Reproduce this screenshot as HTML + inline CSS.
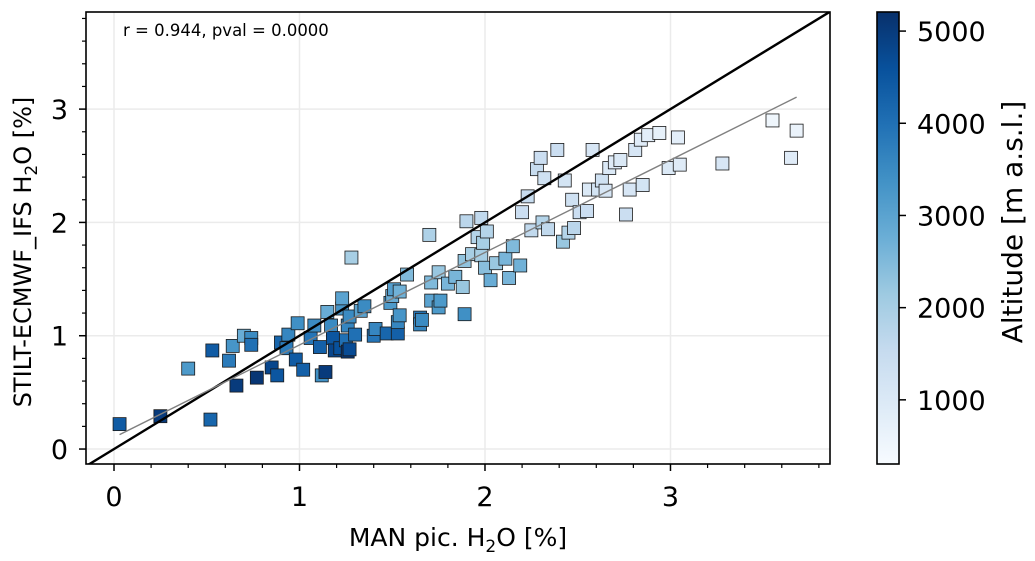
<!DOCTYPE html>
<html><head><meta charset="utf-8"><style>
html,body{margin:0;padding:0;background:#fff;width:1035px;height:561px;overflow:hidden}
svg{display:block;font-family:"DejaVu Sans","Liberation Sans",sans-serif}
</style></head><body>
<svg id="chart" width="1035" height="561" viewBox="0 0 1035 561" xmlns="http://www.w3.org/2000/svg">
<defs>
<linearGradient id="blues" x1="0" y1="1" x2="0" y2="0">
<stop offset="0" stop-color="#f7fbff"/><stop offset="0.125" stop-color="#deebf7"/><stop offset="0.25" stop-color="#c6dbef"/><stop offset="0.375" stop-color="#9ecae1"/><stop offset="0.5" stop-color="#6baed6"/><stop offset="0.625" stop-color="#4292c6"/><stop offset="0.75" stop-color="#2171b5"/><stop offset="0.875" stop-color="#08519c"/><stop offset="1" stop-color="#08306b"/>
</linearGradient>
<clipPath id="plotclip"><rect x="86" y="12" width="744" height="452"/></clipPath>
</defs>
<g id="grid"></g>
<g id="marks" clip-path="url(#plotclip)"></g>
<rect x="86" y="12" width="744" height="452" fill="none" stroke="#000" stroke-width="1.6"/>
<g id="axes"></g>
<text x="123" y="36" font-size="16.5" fill="#000">r = 0.944, pval = 0.0000</text>
<text x="458" y="546" font-size="25" text-anchor="middle">MAN pic. H<tspan font-size="17" dy="6">2</tspan><tspan dy="-6">O [%]</tspan></text>
<text transform="translate(31,252) rotate(-90)" font-size="24" text-anchor="middle">STILT-ECMWF_IFS H<tspan font-size="17" dy="6">2</tspan><tspan dy="-6">O [%]</tspan></text>
<rect x="877" y="12" width="22" height="452" fill="url(#blues)" stroke="#000" stroke-width="1.6"/>
<g id="cbaxis"></g>
<text transform="translate(1022,222) rotate(-90)" font-size="28" text-anchor="middle">Altitude [m a.s.l.]</text>
</svg>
<script>
const xs=[0.03,0.25,0.40,0.52,0.53,0.62,0.64,0.66,0.70,0.74,0.74,0.77,0.85,0.88,0.90,0.93,0.94,0.98,0.99,1.02,1.06,1.08,1.11,1.12,1.14,1.15,1.17,1.18,1.19,1.22,1.23,1.23,1.25,1.26,1.27,1.26,1.27,1.28,1.30,1.33,1.35,1.40,1.41,1.47,1.49,1.50,1.51,1.53,1.53,1.54,1.54,1.58,1.65,1.65,1.66,1.70,1.71,1.71,1.75,1.76,1.75,1.80,1.84,1.88,1.89,1.89,1.90,1.93,1.96,1.98,1.98,1.99,2.00,2.01,2.03,2.06,2.11,2.13,2.15,2.19,2.20,2.23,2.25,2.28,2.30,2.31,2.32,2.34,2.39,2.42,2.43,2.45,2.47,2.48,2.51,2.55,2.56,2.58,2.61,2.63,2.65,2.67,2.70,2.73,2.76,2.78,2.81,2.84,2.85,2.88,2.94,2.99,3.04,3.05,3.28,3.55,3.65,3.68];
const ys=[0.22,0.29,0.71,0.26,0.87,0.78,0.91,0.56,1.00,0.98,0.92,0.63,0.72,0.65,0.94,0.89,1.01,0.79,1.11,0.70,0.98,1.09,0.90,0.65,0.68,1.21,1.09,0.98,0.87,0.89,1.24,1.33,0.96,0.86,0.88,1.09,1.17,1.69,1.01,1.22,1.26,1.00,1.06,1.02,1.29,1.35,1.41,1.02,1.12,1.18,1.39,1.54,1.16,1.10,1.14,1.89,1.31,1.47,1.25,1.31,1.56,1.46,1.52,1.43,1.19,1.66,2.01,1.72,1.87,2.04,1.71,1.82,1.60,1.92,1.49,1.64,1.68,1.51,1.79,1.62,2.09,2.23,1.93,2.47,2.57,2.00,2.39,1.94,2.64,1.83,2.37,1.91,2.20,1.95,2.09,2.10,2.29,2.64,2.29,2.37,2.28,2.48,2.53,2.55,2.07,2.29,2.64,2.73,2.33,2.77,2.79,2.48,2.75,2.51,2.52,2.90,2.57,2.81];
const alts=[4400,5000,3200,4200,4400,3800,3300,5000,2800,3500,4000,5100,4800,4500,4200,3800,3600,4400,3400,4300,3900,3500,4300,3400,5000,2800,3500,4500,4800,4600,3300,3000,4000,5100,4700,3600,3500,2000,4000,3000,3500,3900,3600,4200,3200,2800,3100,4300,3600,3300,2700,2500,3900,3600,3500,1900,3000,2500,3200,3200,2200,2600,2600,2200,3400,2300,1700,2000,1800,1600,2000,2000,2400,1800,2800,2200,2600,2600,2500,2700,1400,1500,1600,1500,1400,1800,1300,1600,1400,2200,1200,1800,1300,1700,1400,1400,1000,1100,1200,1300,1100,1000,900,1000,1400,1100,1100,900,1200,800,700,1000,800,900,1100,500,900,600];
const xTicks=[0,1,2,3];
const yTicks=[0,1,2,3];
const cbTicks=[1000,2000,3000,4000,5000];

const NS="http://www.w3.org/2000/svg";
const X0=86,X1=830,Y0=12,Y1=464;
const xmin=-0.151,xmax=3.86,ymin=-0.132,ymax=3.857;
const sx=v=>X0+(v-xmin)/(xmax-xmin)*(X1-X0);
const sy=v=>Y1-(v-ymin)/(ymax-ymin)*(Y1-Y0);
const cmin=304,cmax=5207;
const cy=v=>464-(v-cmin)/(cmax-cmin)*452;
function el(t,a,p){const e=document.createElementNS(NS,t);for(const k in a)e.setAttribute(k,a[k]);p.appendChild(e);return e;}
const stops=[[247,251,255],[222,235,247],[198,219,239],[158,202,225],[107,174,214],[66,146,198],[33,113,181],[8,81,156],[8,48,107]];
function cmap(v){let t=(v-cmin)/(cmax-cmin);t=Math.max(0,Math.min(1,t))*8;const i=Math.min(7,Math.floor(t)),f=t-i;const c=stops[i].map((s,k)=>Math.round(s+(stops[i+1][k]-s)*f));return `rgb(${c})`;}

const grid=document.getElementById('grid'),marks=document.getElementById('marks'),axes=document.getElementById('axes'),cb=document.getElementById('cbaxis');
xTicks.forEach(v=>{const g=el('line',{x1:sx(v),x2:sx(v),y1:Y0,y2:Y1,stroke:'#ebebeb','stroke-width':1.5},grid);

});
yTicks.forEach(v=>{const g=el('line',{x1:X0,x2:X1,y1:sy(v),y2:sy(v),stroke:'#ebebeb','stroke-width':1.5},grid);

});

xs.forEach((_,i)=>{const s=13;const r=el('rect',{x:sx(xs[i])-s/2,y:sy(ys[i])-s/2,width:s,height:s,fill:cmap(alts[i]),stroke:'#1a1a1a','stroke-width':0.8},marks);

});

const l1=el('line',{x1:sx(-1),y1:sy(-1),x2:sx(5),y2:sy(5),stroke:'#000','stroke-width':2.4},marks);



const n=xs.length;const mx=xs.reduce((a,b)=>a+b)/n,my=ys.reduce((a,b)=>a+b)/n;
let sxy=0,sxx=0;for(let i=0;i<n;i++){sxy+=(xs[i]-mx)*(ys[i]-my);sxx+=(xs[i]-mx)**2;}
const b=sxy/sxx,a=my-b*mx;const xa=Math.min(...xs),xb=Math.max(...xs);
const rl=el('line',{x1:sx(xa),y1:sy(a+b*xa),x2:sx(xb),y2:sy(a+b*xb),stroke:'#808080','stroke-width':1.4},marks);



for(let v=0;v<=3.81;v+=0.2){const major=Math.abs(v-Math.round(v))<1e-6;el('line',{x1:sx(v),x2:sx(v),y1:Y1,y2:Y1+(major?7:4),stroke:'#000','stroke-width':major?1.5:1.2},axes);}
for(let v=0;v<=3.81;v+=0.2){const major=Math.abs(v-Math.round(v))<1e-6;el('line',{x1:X0,x2:X0-(major?7:4),y1:sy(v),y2:sy(v),stroke:'#000','stroke-width':major?1.5:1.2},axes);}
xTicks.forEach(v=>{const t=el('text',{x:sx(v),y:506,'font-size':27,'text-anchor':'middle'},axes);t.textContent=v;

});
yTicks.forEach(v=>{const t=el('text',{x:68,y:sy(v)+10,'font-size':27,'text-anchor':'end'},axes);t.textContent=v;

});
cbTicks.forEach(v=>{el('line',{x1:899,x2:906,y1:cy(v),y2:cy(v),stroke:'#000','stroke-width':1.5},cb);
const t=el('text',{x:917,y:cy(v)+10,'font-size':27},cb);t.textContent=v;

});
</script>
</body></html>
